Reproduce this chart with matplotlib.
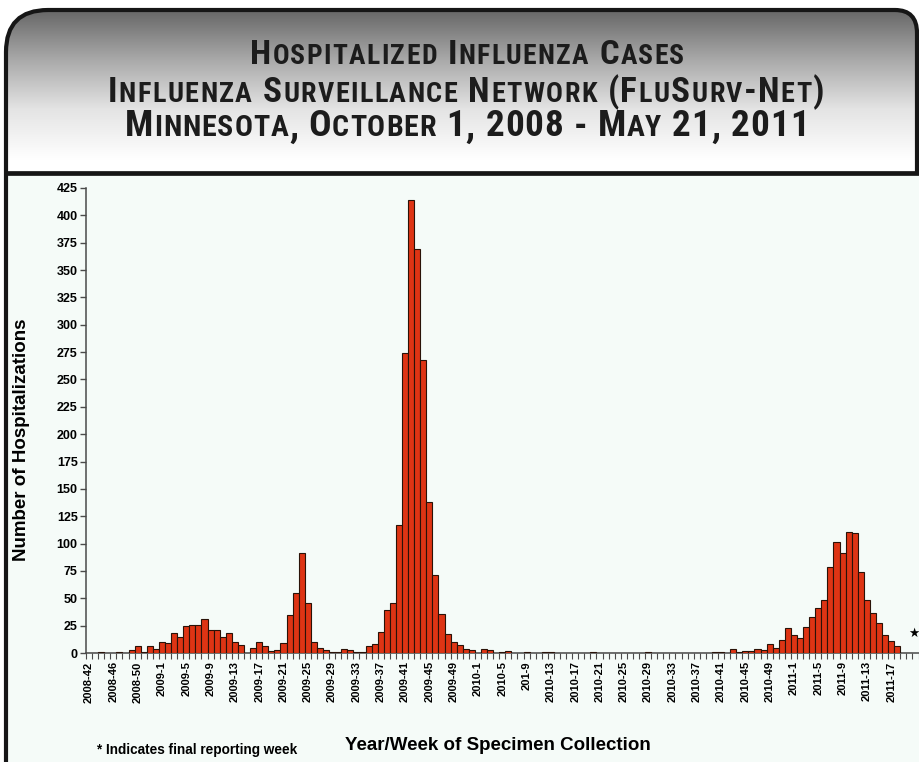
import os
import numpy as np
import matplotlib.pyplot as plt
from matplotlib.path import Path
from matplotlib.patches import PathPatch, Rectangle
from matplotlib.colors import LinearSegmentedColormap
from matplotlib.text import Text
from matplotlib.textpath import TextPath
from matplotlib import font_manager
from matplotlib.font_manager import FontProperties

# weekly hospitalizations
hosp_2008 = [0, 0, 1, 0, 0, 1, 0, 3, 6, 1, 6, 4]  # weeks 42-53
hosp_2009 = [10, 9, 18, 15, 25, 26, 26, 31, 21, 21, 15, 18, 10, 7, 0, 5,
             10, 6, 2, 3, 9, 35, 55, 91, 46, 10, 5, 3, 1, 1, 4, 3,
             1, 1, 6, 8, 19, 39, 46, 117, 274, 414, 369, 268, 138, 71, 36, 17,
             10, 7, 4, 3]
hosp_2010 = [0, 4, 3, 0, 1, 2, 0, 0, 1, 0, 0, 1, 1, 0, 0, 0,
             0, 0, 0, 1, 0, 0, 0, 0, 0, 0, 0, 0, 1, 0, 0, 0,
             0, 0, 0, 0, 0, 0, 0, 1, 1, 0, 4, 1, 2, 2, 4, 3,
             8, 5, 12, 23]
hosp_2011 = [16, 14, 24, 33, 41, 48, 79, 101, 91, 111, 110, 74, 48, 37, 27, 16,
             11, 6, 0, 0]  # weeks 1-20

tick_labels = ["2008-42", "2008-46", "2008-50", "2009-1", "2009-5", "2009-9",
               "2009-13", "2009-17", "2009-21", "2009-25", "2009-29", "2009-33",
               "2009-37", "2009-41", "2009-45", "2009-49", "2010-1", "2010-5",
               "201-9", "2010-13", "2010-17", "2010-21", "2010-25", "2010-29",
               "2010-33", "2010-37", "2010-41", "2010-45", "2010-49", "2011-1",
               "2011-5", "2011-9", "2011-13", "2011-17"]

title_lines = ["Hospitalized Influenza Cases",
               "Influenza Surveillance Network (FluSurv-Net)",
               "Minnesota, October 1, 2008 - May 21, 2011"]

counts = hosp_2008 + hosp_2009 + hosp_2010 + hosp_2011
x = np.arange(len(counts))

plt.rcParams['font.family'] = ['Liberation Sans', 'DejaVu Sans']

# look for a narrow bold face for the title, else plain bold sans
font_files = set(font_manager.findSystemFonts()) | {f.fname for f in font_manager.fontManager.ttflist}
title_fp = FontProperties(family='Liberation Sans', weight='bold')
for pref in ['LiberationSansNarrow-Bold.', 'RobotoCondensed-Bold.', 'OpenSans_Condensed-Bold.',
             'OpenSansCondensed-Bold.', 'OpenSans-CondensedBold.', 'NotoSans-CondensedBold.',
             'DejaVuSansCondensed-Bold.']:
    hits = [f for f in font_files if os.path.basename(f).startswith(pref)]
    if hits:
        title_fp = FontProperties(fname=sorted(hits)[0])
        break

W, H = 919, 762
fig = plt.figure(figsize=(W / 100, H / 100), dpi=100)
fig.patch.set_facecolor('white')

# background panel, drawn in pixel coords
bg = fig.add_axes([0, 0, 1, 1], zorder=-10)
bg.set_xlim(0, W)
bg.set_ylim(H, 0)
bg.axis('off')
bg.add_patch(Rectangle((6, 172), W, H, facecolor='#f5fbf8', edgecolor='none'))

hv = [(6, 172), (6, 52), (6, 10), (48, 10), (895, 10), (917, 10), (917, 33), (917, 172), (6, 172)]
hc = [Path.MOVETO, Path.LINETO, Path.CURVE3, Path.CURVE3, Path.LINETO,
      Path.CURVE3, Path.CURVE3, Path.LINETO, Path.CLOSEPOLY]
header = PathPatch(Path(hv, hc), facecolor='none', edgecolor='none')
bg.add_patch(header)
gmap = LinearSegmentedColormap.from_list('hdr', ['#646464', '#a8a8a8', '#e4e4e4', '#ffffff'])
grad = np.linspace(0, 1, 256)[:, None]
im = bg.imshow(grad, cmap=gmap, extent=[0, W, 160, 8], aspect='auto', origin='upper')
im.set_clip_path(header)

ov = [(6, H), (6, 52), (6, 10), (48, 10), (895, 10), (917, 10), (917, 33), (917, 172)]
oc = [Path.MOVETO, Path.LINETO, Path.CURVE3, Path.CURVE3, Path.LINETO,
      Path.CURVE3, Path.CURVE3, Path.LINETO]
bg.add_patch(PathPatch(Path(ov, oc), facecolor='none', edgecolor='#161616', lw=3.0))
bg.plot([6, W], [172.5, 172.5], color='#161616', lw=3.4, solid_capstyle='butt')

# title in small caps, lightly letter-spaced towards the reference width
renderer = fig.canvas.get_renderer()


def adv(s, size):
    fp = title_fp.copy()
    fp.set_size(size)
    t = Text(0, 0, '|' + s + '|', fontproperties=fp)
    t.set_figure(fig)
    w1 = t.get_window_extent(renderer).width
    t.set_text('||')
    return w1 - t.get_window_extent(renderer).width


def cap_px(size):
    return TextPath((0, 0), 'H', size=size, prop=title_fp).get_extents().height * 100 / 72


def small_caps(line, cx, base, cap, targ):
    big = 20.0 * cap / cap_px(20.0)
    small = big * 0.8
    chars = [(ch.upper(), small if ch.islower() else big) for ch in line]
    advs = [adv(c, s) for c, s in chars]
    track = 0.5 * max(0.0, (targ - sum(advs)) / (len(chars) - 1))
    xp = cx - (sum(advs) + track * (len(chars) - 1)) / 2
    for (c, s), a in zip(chars, advs):
        if c != ' ':
            fp = title_fp.copy()
            fp.set_size(s)
            fig.text(xp / W, 1 - base / H, c, fontproperties=fp,
                     color='#1c1c1c', ha='left', va='baseline')
        xp += a + track


small_caps(title_lines[0], 467, 64.5, 24.5, 471)
small_caps(title_lines[1], 466, 102, 25, 777)
small_caps(title_lines[2], 467, 136.5, 26.5, 718)

# chart
slot = 6.077
ax = fig.add_axes([86 / W, (H - 653) / H, 137.5 * slot / W, 465 / H])
ax.patch.set_alpha(0)
ax.bar(x, counts, width=1.0, color='#de3414', edgecolor='#2a1208', linewidth=0.8, zorder=3)
ax.set_xlim(-0.5, 137)
ax.set_ylim(0, 425)
ax.set_yticks(np.arange(0, 426, 25))
ax.set_xticks(np.arange(0, len(tick_labels) * 4, 4))
ax.set_xticklabels(tick_labels, rotation=90)
ax.set_xticks(np.arange(-0.5, 137, 1), minor=True)
for s in ['top', 'right']:
    ax.spines[s].set_visible(False)
for s in ['left', 'bottom']:
    ax.spines[s].set_color('#4a4a4a')
    ax.spines[s].set_linewidth(1.1)
ax.tick_params(axis='y', direction='out', length=4, width=1, color='#4a4a4a', labelsize=9, pad=2)
ax.tick_params(axis='x', which='major', length=0, labelsize=8, pad=6)
ax.tick_params(axis='x', which='minor', direction='out', length=4, width=0.8, color='#4a4a4a')
for lbl in ax.get_xticklabels() + ax.get_yticklabels():
    lbl.set_fontweight('bold')

ax.text(135.8, 18, '\u2605', fontsize=9, ha='center', va='center', family='DejaVu Sans', clip_on=False)

fig.text(22 / W, 1 - 440 / H, 'Number of Hospitalizations', rotation=90, fontsize=13.5,
         fontweight='bold', ha='center', va='center')
fig.text(498 / W, 1 - 746 / H, 'Year/Week of Specimen Collection', fontsize=13.5,
         fontweight='bold', ha='center', va='center')
fig.text(97 / W, 1 - 750 / H, '* Indicates final reporting week', fontsize=9.8,
         fontweight='bold', ha='left', va='center')

fig.savefig('out.png', dpi=100)
